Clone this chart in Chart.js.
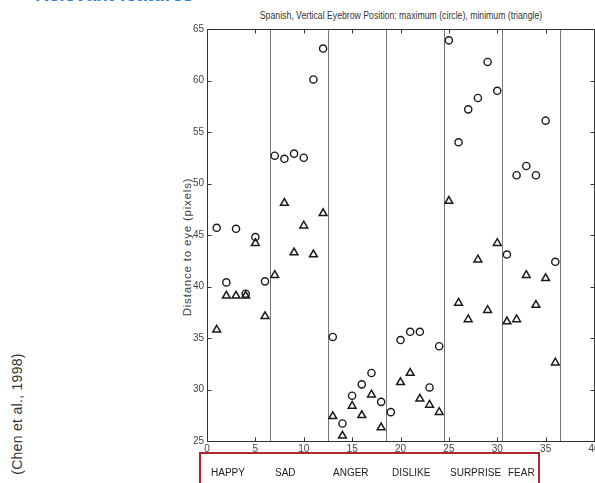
<!DOCTYPE html>
<html lang="en">
<head>
    <meta charset="UTF-8">
    <title>Spanish, Vertical Eyebrow Position</title>
    <script src="https://cdn.jsdelivr.net/npm/chart.js"></script>
    <style>
        body { margin: 0; width: 595px; height: 483px; overflow: hidden; background: #fff; position: relative; font-family: "Liberation Sans", Arial, sans-serif; }
        #wrap { position: absolute; left: 0; top: 0; width: 620px; height: 483px; }
        .abs { position: absolute; white-space: nowrap; }
        #slideTitle { left: 35px; top: -15px; font-size: 19px; font-weight: bold; color: #2f7fcf; line-height: 19px; }
        #cite { left: 17px; top: 414px; font-size: 14px; color: #333; letter-spacing: 0.3px; transform: translate(-50%, -50%) rotate(-90deg); }
        #ytitle { left: 187px; top: 247px; font-size: 11.5px; color: #444; letter-spacing: 0.8px; transform: translate(-50%, -50%) rotate(-90deg); }
        #ctitle { left: 401px; top: 15px; font-size: 10px; color: #333; transform: translate(-50%, -50%) scaleX(0.87); }
        #emoBox { left: 199px; top: 452px; width: 337px; height: 60px; border: 2.5px solid #b0272d; }
        .emo { top: 467px; font-size: 10px; color: #222; }
    </style>
</head>
<body>
    <div id="slideTitle" class="abs">Relevant features</div>
    <div id="cite" class="abs">(Chen et al., 1998)</div>
    <div id="ytitle" class="abs">Distance to eye (pixels)</div>
    <div id="ctitle" class="abs">Spanish, Vertical Eyebrow Position: maximum (circle), minimum (triangle)</div>
    <div id="wrap"><canvas id="eyebrowChart" width="620" height="483"></canvas></div>
    <div id="emoBox" class="abs"></div>

    <script>
        // sample number along the x axis
        const samples = [1, 2, 3, 4, 5, 6, 7, 8, 9, 10, 11, 12, 13, 14, 15, 16, 17, 18,
                         19, 20, 21, 22, 23, 24, 25, 26, 27, 28, 29, 30, 31, 32, 33, 34, 35, 36];
        // maximum eyebrow position (circles)
        const maxPos = [45.7, 40.4, 45.6, 39.3, 44.8, 40.5, 52.7, 52.4, 52.9, 52.5, 60.1, 63.1,
                        35.1, 26.7, 29.4, 30.5, 31.6, 28.8, 27.8, 34.8, 35.6, 35.6, 30.2, 34.2,
                        63.9, 54.0, 57.2, 58.3, 61.8, 59.0, 43.1, 50.8, 51.7, 50.8, 56.1, 42.4];
        // minimum eyebrow position (triangles)
        const minPos = [35.8, 39.1, 39.1, 39.1, 44.2, 37.1, 41.1, 48.1, 43.3, 45.9, 43.1, 47.1,
                        27.4, 25.5, 28.4, 27.5, 29.5, 26.3, null, 30.7, 31.6, 29.1, 28.5, 27.8,
                        48.3, 38.4, 36.8, 42.6, 37.7, 44.2, 36.6, 36.8, 41.1, 38.2, 40.8, 32.6];
        // boundaries between emotion groups
        const separators = [6.5, 12.5, 18.5, 24.5, 30.5, 36.5];
        const emotions = ['HAPPY', 'SAD', 'ANGER', 'DISLIKE', 'SURPRISE', 'FEAR'];
        const emotionLeft = [211, 275, 333, 392, 450, 508];

        emotions.forEach((name, i) => {
            const s = document.createElement('div');
            s.className = 'abs emo';
            s.style.left = emotionLeft[i] + 'px';
            s.textContent = name;
            document.body.appendChild(s);
        });

        const toPoints = vals => samples.map((s, i) => ({ x: s, y: vals[i] }));

        // MATLAB style box, inward ticks and group separators
        const framePlugin = {
            id: 'framePlugin',
            beforeDatasetsDraw(chart) {
                const { ctx, chartArea: a, scales: { x, y } } = chart;
                ctx.save();
                ctx.lineWidth = 1;
                ctx.strokeStyle = '#777';
                separators.forEach(v => {
                    const px = Math.round(x.getPixelForValue(v)) + 0.5;
                    ctx.beginPath();
                    ctx.moveTo(px, a.top);
                    ctx.lineTo(px, a.bottom);
                    ctx.stroke();
                });
                ctx.strokeStyle = '#333';
                const L = Math.round(a.left) + 0.5, R = Math.round(a.right) + 0.5;
                const T = Math.round(a.top) + 0.5, B = Math.round(a.bottom) + 0.5;
                ctx.strokeRect(L, T, R - L, B - T);
                ctx.beginPath();
                x.ticks.forEach(t => {
                    const px = Math.round(x.getPixelForValue(t.value)) + 0.5;
                    ctx.moveTo(px, B); ctx.lineTo(px, B - 4);
                    ctx.moveTo(px, T); ctx.lineTo(px, T + 4);
                });
                y.ticks.forEach(t => {
                    const py = Math.round(y.getPixelForValue(t.value)) + 0.5;
                    ctx.moveTo(L, py); ctx.lineTo(L + 4, py);
                    ctx.moveTo(R, py); ctx.lineTo(R - 4, py);
                });
                ctx.stroke();
                ctx.restore();
            }
        };

        const tickFont = { family: '"Liberation Sans Narrow", "Liberation Sans", sans-serif', size: 10 };

        new Chart(document.getElementById('eyebrowChart'), {
            type: 'scatter',
            data: {
                datasets: [
                    {
                        label: 'maximum (circle)',
                        data: toPoints(maxPos),
                        pointStyle: 'circle',
                        pointRadius: 3.6,
                        borderColor: '#1a1a1a',
                        backgroundColor: 'rgba(255,255,255,0)',
                        borderWidth: 1.4
                    },
                    {
                        label: 'minimum (triangle)',
                        data: toPoints(minPos),
                        pointStyle: 'triangle',
                        pointRadius: 4.5,
                        borderColor: '#1a1a1a',
                        backgroundColor: 'rgba(255,255,255,0)',
                        borderWidth: 1.5
                    }
                ]
            },
            options: {
                responsive: false,
                animation: false,
                devicePixelRatio: 1,
                layout: { padding: { left: 180, right: 26, top: 29, bottom: 28 } },
                plugins: { legend: { display: false }, tooltip: { enabled: false } },
                scales: {
                    x: {
                        type: 'linear',
                        min: 0, max: 40,
                        ticks: { stepSize: 5, color: '#444', font: tickFont, padding: 2, maxRotation: 0 },
                        grid: { display: false, drawTicks: false },
                        border: { display: false },
                        afterFit: s => { s.height = 14; }
                    },
                    y: {
                        min: 25, max: 65,
                        ticks: { stepSize: 5, color: '#444', font: tickFont, padding: 3 },
                        grid: { display: false, drawTicks: false },
                        border: { display: false },
                        afterFit: s => { s.width = 27; }
                    }
                }
            },
            plugins: [framePlugin]
        });
    </script>
</body>
</html>
